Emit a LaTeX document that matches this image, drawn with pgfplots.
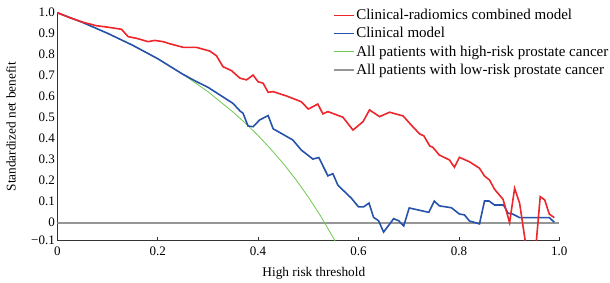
\documentclass[border=0pt]{standalone}
\usepackage{pgfplots}
\pgfplotsset{compat=1.18}
\usepackage{fontspec}
\setmainfont{Liberation Serif}
\definecolor{cred}{RGB}{236,38,42}
\definecolor{cblue}{RGB}{38,82,170}
\definecolor{cgreen}{RGB}{110,200,80}
\definecolor{cgrey}{RGB}{150,150,150}
\begin{document}
\begin{tikzpicture}
\useasboundingbox (0,0) rectangle (610pt,282pt);
\begin{axis}[
  at={(57.3pt,41.3pt)}, anchor=south west,
  scale only axis, width=502pt, height=228pt,
  xmin=0, xmax=1, ymin=-0.086, ymax=1.0,
  axis x line*=bottom, axis y line*=left,
  axis line style={black!80, line width=0.8pt},
  xtick={0,0.2,0.4,0.6,0.8,1.0},
  xticklabels={0,0.2,0.4,0.6,0.8,1.0},
  ytick={0,0.1,0.2,0.3,0.4,0.5,0.6,0.7,0.8,0.9,1.0},
  yticklabels={0,0.1,0.2,0.3,0.4,0.5,0.6,0.7,0.8,0.9,1.0},
  extra y ticks={-0.086}, extra y tick labels={−0.1},
  extra y tick style={ytick style={draw=none}},
  ytick style={draw=none},
  xtick align=inside, xtick pos=bottom,
  major tick length=4pt,
  xtick style={black!80, line width=0.8pt},
  ticklabel style={font=\fontsize{13}{15}\selectfont},
  yticklabel style={xshift=1pt},
  xticklabel style={yshift=-3pt},
  xlabel={High risk threshold},
  ylabel={Standardized net benefit},
  label style={font=\fontsize{13.3}{15}\selectfont},
  xlabel style={at={(axis description cs:0.511,-0.142)}, anchor=center},
  ylabel style={at={(axis description cs:-0.092,0.5)}, anchor=center},
  clip=true,
  legend cell align=left,
  legend style={draw=none, fill=none, at={(0.543,1.03)}, anchor=north west,
    font=\fontsize{15}{17}\selectfont, row sep=4pt,
    nodes={inner sep=1.2pt}},
  legend image code/.code={\draw[#1] (0pt,0pt) -- (20pt,0pt);},
]
\addlegendimage{cred, line width=1.3pt}
\addlegendentry{Clinical-radiomics combined model}
\addlegendimage{cblue, line width=1.3pt}
\addlegendentry{Clinical model}
\addlegendimage{cgreen, line width=0.9pt}
\addlegendentry{All patients with high-risk prostate cancer}
\addlegendimage{cgrey, line width=2pt}
\addlegendentry{All patients with low-risk prostate cancer}

\addplot[cgrey, line width=2pt, forget plot] coordinates {(0,0) (1,0)};

\addplot[cgreen, line width=0.8pt, forget plot] coordinates {
(0,1.0) (0.05,0.954) (0.1,0.902) (0.15,0.845) (0.2,0.781) (0.25,0.707)
(0.3,0.624) (0.35,0.527) (0.375,0.473) (0.4,0.415) (0.425,0.351)
(0.45,0.282) (0.475,0.206) (0.5,0.122) (0.525,0.030) (0.55,-0.073) (0.56,-0.117)};

\addplot[cblue, line width=1.6pt, forget plot] coordinates {
(0,1.0) (0.05,0.954) (0.1,0.902) (0.15,0.845) (0.2,0.781) (0.25,0.707)
(0.277,0.672) (0.300,0.645) (0.350,0.568) (0.364,0.532) (0.370,0.521)
(0.380,0.460) (0.390,0.457) (0.403,0.489) (0.420,0.510) (0.430,0.447)
(0.469,0.394) (0.486,0.346) (0.509,0.303) (0.521,0.310) (0.539,0.223)
(0.549,0.233) (0.559,0.178) (0.586,0.116) (0.600,0.075) (0.610,0.075)
(0.621,0.093) (0.630,0.025) (0.640,0.009) (0.650,-0.045) (0.670,0.019)
(0.680,0.009) (0.690,-0.016) (0.701,0.070) (0.740,0.049) (0.751,0.103)
(0.761,0.080) (0.785,0.071) (0.801,0.041) (0.811,0.037) (0.821,0.008)
(0.841,-0.006) (0.851,0.103) (0.860,0.103) (0.871,0.084) (0.889,0.084)
(0.898,0.045) (0.907,0.041) (0.921,0.024) (0.980,0.024) (0.990,0.002)};

\addplot[cred, line width=1.6pt, forget plot] coordinates {
(0,1.0) (0.025,0.976) (0.052,0.954) (0.078,0.938) (0.098,0.932) (0.128,0.921)
(0.141,0.886) (0.158,0.878) (0.181,0.862) (0.194,0.868) (0.211,0.862)
(0.224,0.852) (0.251,0.835) (0.277,0.835) (0.304,0.817) (0.317,0.795)
(0.330,0.743) (0.347,0.724) (0.364,0.688) (0.377,0.680) (0.390,0.703)
(0.400,0.671) (0.410,0.664) (0.420,0.621) (0.430,0.624) (0.457,0.603)
(0.486,0.576) (0.500,0.541) (0.519,0.565) (0.529,0.518) (0.539,0.529)
(0.569,0.502) (0.589,0.441) (0.609,0.481) (0.622,0.537) (0.642,0.505)
(0.662,0.526) (0.689,0.508) (0.705,0.465) (0.722,0.422) (0.730,0.414)
(0.742,0.365) (0.748,0.359) (0.761,0.322) (0.781,0.299) (0.791,0.264)
(0.801,0.311) (0.821,0.290) (0.841,0.259) (0.851,0.222) (0.861,0.203)
(0.871,0.159) (0.888,0.111) (0.901,0.0) (0.911,0.164) (0.921,0.092)
(0.936,-0.15) (0.952,-0.15) (0.962,0.124) (0.971,0.108) (0.980,0.041)
(0.990,0.024)};
\end{axis}
\end{tikzpicture}
\end{document}
